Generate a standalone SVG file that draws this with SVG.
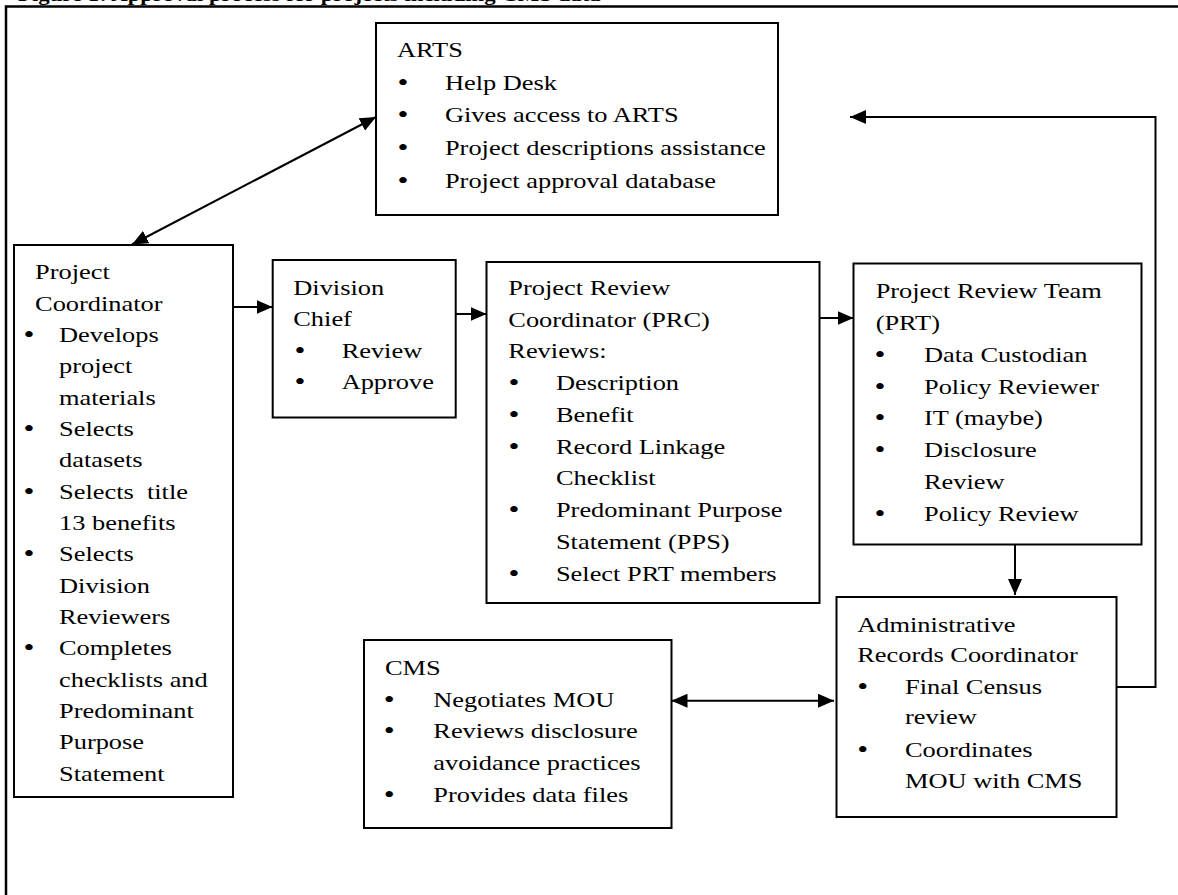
<svg xmlns="http://www.w3.org/2000/svg" width="1178" height="895" viewBox="0 0 1178 895">
<style>
.box { fill: #fff; stroke: #000; stroke-width: 2; }
.t { font-family: "Liberation Serif", "Times New Roman", serif; font-size: 22px; fill: #000; }
.b { font-family: "Liberation Serif", "Times New Roman", serif; font-size: 26px; fill: #000; text-anchor: middle; }
.title { font-family: "Liberation Serif", "Times New Roman", serif; font-size: 19px; font-weight: bold; fill: #000; }
.pre { white-space: pre; }
.con { fill: none; stroke: #000; stroke-width: 2; }
.frame { fill: none; stroke: #000; stroke-width: 2.5; }
</style>
<defs>
<marker id="arr" markerUnits="userSpaceOnUse" markerWidth="16" markerHeight="14" viewBox="0 0 16 14" refX="16" refY="7" orient="auto-start-reverse">
<path d="M0,0 L16,7 L0,14 z" fill="#000"/>
</marker>
</defs>
<rect width="1178" height="895" fill="#fff"/>
<g id="title" transform="scale(1.2 1)">
<text class="title" x="15" y="0.8">Figure 1: Approval process for projects including CMS data</text>
</g>
<path class="frame" d="M6,895 V6.5 H1178"/>

<g id="connectors">
<line class="con" x1="229" y1="307" x2="272.5" y2="307" marker-end="url(#arr)"/>
<line class="con" x1="455.5" y1="314" x2="486.5" y2="314" marker-end="url(#arr)"/>
<line class="con" x1="819.5" y1="318" x2="853.5" y2="318" marker-end="url(#arr)"/>
<line class="con" x1="1015" y1="544.5" x2="1015" y2="595" marker-end="url(#arr)"/>
<path class="con" d="M1116,687 H1155.5 V117 H850" marker-end="url(#arr)"/>
<line class="con" x1="671.5" y1="700.7" x2="834" y2="700.7" marker-start="url(#arr)" marker-end="url(#arr)"/>
<line class="con" x1="132" y1="244.5" x2="376" y2="117" marker-start="url(#arr)" marker-end="url(#arr)"/>
</g>

<g id="arts">
<rect class="box" x="376" y="23" width="402" height="192"/>
<g transform="scale(1.2 1)">
<text class="t" x="330.8" y="57.5">ARTS</text>
<text class="b" x="335.8" y="91.5">•</text><text class="t" x="370.8" y="90.5">Help Desk</text>
<text class="b" x="335.8" y="123.5">•</text><text class="t" x="370.8" y="122.5">Gives access to ARTS</text>
<text class="b" x="335.8" y="156.5">•</text><text class="t" x="370.8" y="155.5">Project descriptions assistance</text>
<text class="b" x="335.8" y="189.5">•</text><text class="t" x="370.8" y="188.5">Project approval database</text>
</g>
</g>

<g id="project-coordinator">
<rect class="box" x="14" y="245" width="219" height="552"/>
<g transform="scale(1.2 1)">
<text class="t" x="29.2" y="279.3">Project</text>
<text class="t" x="29.2" y="310.7">Coordinator</text>
<text class="b" x="24.2" y="343">•</text><text class="t" x="49.2" y="342">Develops</text>
<text class="t" x="49.2" y="373.3">project</text>
<text class="t" x="49.2" y="404.7">materials</text>
<text class="b" x="24.2" y="437">•</text><text class="t" x="49.2" y="436">Selects</text>
<text class="t" x="49.2" y="467.3">datasets</text>
<text class="b" x="24.2" y="499.7">•</text><text class="t pre" x="49.2" y="498.7">Selects  title</text>
<text class="t" x="49.2" y="530">13 benefits</text>
<text class="b" x="24.2" y="562.4">•</text><text class="t" x="49.2" y="561.4">Selects</text>
<text class="t" x="49.2" y="592.7">Division</text>
<text class="t" x="49.2" y="624">Reviewers</text>
<text class="b" x="24.2" y="656.4">•</text><text class="t" x="49.2" y="655.4">Completes</text>
<text class="t" x="49.2" y="686.7">checklists and</text>
<text class="t" x="49.2" y="718.1">Predominant</text>
<text class="t" x="49.2" y="749.4">Purpose</text>
<text class="t" x="49.2" y="780.7">Statement</text>
</g>
</g>

<g id="division-chief">
<rect class="box" x="272.7" y="260" width="183" height="157.5"/>
<g transform="scale(1.2 1)">
<text class="t" x="244.4" y="295">Division</text>
<text class="t" x="244.4" y="326.3">Chief</text>
<text class="b" x="250" y="358.6">•</text><text class="t" x="284.7" y="357.6">Review</text>
<text class="b" x="250" y="390">•</text><text class="t" x="284.7" y="389">Approve</text>
</g>
</g>

<g id="prc">
<rect class="box" x="486.5" y="262" width="333" height="341"/>
<g transform="scale(1.2 1)">
<text class="t" x="423.6" y="295">Project Review</text>
<text class="t" x="423.6" y="326.7">Coordinator (PRC)</text>
<text class="t" x="423.6" y="358.5">Reviews:</text>
<text class="b" x="428.3" y="391.2">•</text><text class="t" x="463.3" y="390.2">Description</text>
<text class="b" x="428.3" y="423">•</text><text class="t" x="463.3" y="422">Benefit</text>
<text class="b" x="428.3" y="454.7">•</text><text class="t" x="463.3" y="453.7">Record Linkage</text>
<text class="t" x="463.3" y="485.4">Checklist</text>
<text class="b" x="428.3" y="518.2">•</text><text class="t" x="463.3" y="517.2">Predominant Purpose</text>
<text class="t" x="463.3" y="548.9">Statement (PPS)</text>
<text class="b" x="428.3" y="581.7">•</text><text class="t" x="463.3" y="580.7">Select PRT members</text>
</g>
</g>

<g id="prt">
<rect class="box" x="853.5" y="263.5" width="288" height="281"/>
<g transform="scale(1.2 1)">
<text class="t" x="729.7" y="298.3">Project Review Team</text>
<text class="t" x="729.7" y="330.1">(PRT)</text>
<text class="b" x="733.3" y="362.8">•</text><text class="t" x="770" y="361.8">Data Custodian</text>
<text class="b" x="733.3" y="394.6">•</text><text class="t" x="770" y="393.6">Policy Reviewer</text>
<text class="b" x="733.3" y="426.4">•</text><text class="t" x="770" y="425.4">IT (maybe)</text>
<text class="b" x="733.3" y="458.2">•</text><text class="t" x="770" y="457.2">Disclosure</text>
<text class="t" x="770" y="488.9">Review</text>
<text class="b" x="733.3" y="521.7">•</text><text class="t" x="770" y="520.7">Policy Review</text>
</g>
</g>

<g id="admin-records-coordinator">
<rect class="box" x="836.5" y="597" width="280" height="220"/>
<g transform="scale(1.2 1)">
<text class="t" x="714.4" y="631.7">Administrative</text>
<text class="t" x="714.4" y="662.5">Records Coordinator</text>
<text class="b" x="718.9" y="695">•</text><text class="t" x="754.2" y="694">Final Census</text>
<text class="t" x="754.2" y="724.5">review</text>
<text class="b" x="718.9" y="758">•</text><text class="t" x="754.2" y="757">Coordinates</text>
<text class="t" x="754.2" y="788.3">MOU with CMS</text>
</g>
</g>

<g id="cms">
<rect class="box" x="364" y="640" width="307.5" height="188"/>
<g transform="scale(1.2 1)">
<text class="t" x="320.8" y="675">CMS</text>
<text class="b" x="324.4" y="707.7">•</text><text class="t" x="361.1" y="706.7">Negotiates MOU</text>
<text class="b" x="324.4" y="739.3">•</text><text class="t" x="361.1" y="738.3">Reviews disclosure</text>
<text class="t" x="361.1" y="770">avoidance practices</text>
<text class="b" x="324.4" y="802.7">•</text><text class="t" x="361.1" y="801.7">Provides data files</text>
</g>
</g>
</svg>
